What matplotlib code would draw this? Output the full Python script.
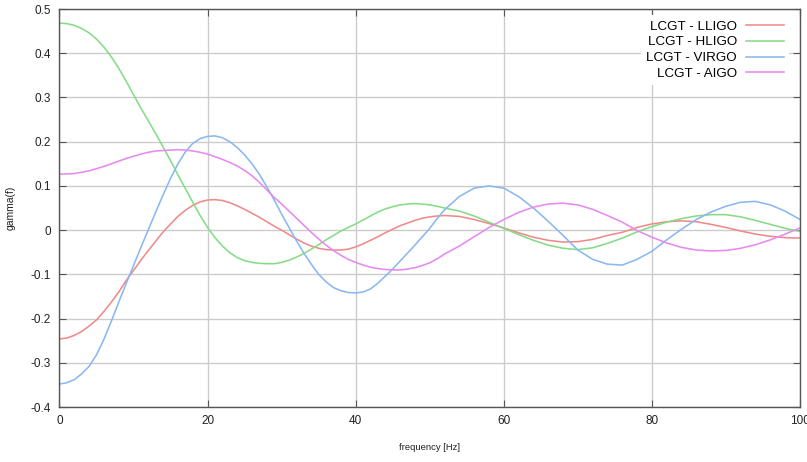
import matplotlib
matplotlib.use("Agg")
import matplotlib.pyplot as plt

# values: every 1 Hz up to 52 Hz, then every 2 Hz
freq = list(range(0, 53)) + list(range(54, 101, 2))

lligo = [-0.246, -0.244, -0.238, -0.229, -0.217, -0.203, -0.184, -0.163, -0.140, -0.114,
         -0.091, -0.068, -0.046, -0.025, -0.004, 0.014, 0.031, 0.045, 0.056, 0.064,
         0.068, 0.069, 0.067, 0.062, 0.055, 0.047, 0.038, 0.029, 0.019, 0.009,
         0.000, -0.010, -0.020, -0.029, -0.036, -0.041, -0.044, -0.045, -0.045, -0.043,
         -0.038, -0.031, -0.023, -0.015, -0.006, 0.002, 0.010, 0.016, 0.022, 0.027,
         0.030, 0.032, 0.033,
         0.031, 0.024, 0.015, 0.005, -0.006, -0.016, -0.023, -0.027, -0.026, -0.021,
         -0.012, -0.005, 0.006, 0.014, 0.019, 0.021, 0.019, 0.013, 0.006, -0.002,
         -0.009, -0.014, -0.017, -0.018]

hligo = [0.468, 0.467, 0.463, 0.456, 0.446, 0.432, 0.414, 0.392, 0.366, 0.337,
         0.306, 0.276, 0.247, 0.218, 0.188, 0.157, 0.125, 0.094, 0.063, 0.033,
         0.006, -0.017, -0.036, -0.051, -0.062, -0.069, -0.073, -0.075, -0.076, -0.076,
         -0.073, -0.068, -0.061, -0.053, -0.043, -0.033, -0.022, -0.012, -0.002, 0.006,
         0.014, 0.023, 0.032, 0.041, 0.048, 0.053, 0.057, 0.059, 0.060, 0.059,
         0.057, 0.054, 0.050,
         0.043, 0.032, 0.018, 0.004, -0.010, -0.023, -0.034, -0.041, -0.044, -0.040,
         -0.030, -0.018, -0.004, 0.008, 0.018, 0.026, 0.032, 0.035, 0.035, 0.030,
         0.022, 0.013, 0.004, -0.003]

virgo = [-0.348, -0.345, -0.338, -0.325, -0.308, -0.282, -0.247, -0.206, -0.163, -0.121,
         -0.080, -0.039, 0.001, 0.041, 0.080, 0.117, 0.150, 0.177, 0.196, 0.207,
         0.212, 0.213, 0.209, 0.200, 0.187, 0.170, 0.150, 0.126, 0.098, 0.068,
         0.036, 0.006, -0.024, -0.052, -0.077, -0.100, -0.117, -0.130, -0.137, -0.141,
         -0.142, -0.140, -0.133, -0.120, -0.104, -0.088, -0.070, -0.052, -0.034, -0.015,
         0.004, 0.026, 0.046,
         0.076, 0.095, 0.100, 0.095, 0.076, 0.050, 0.020, -0.012, -0.045, -0.066,
         -0.077, -0.079, -0.066, -0.048, -0.022, 0.002, 0.024, 0.041, 0.054, 0.063,
         0.065, 0.057, 0.043, 0.024]

aigo = [0.127, 0.127, 0.128, 0.131, 0.134, 0.139, 0.144, 0.150, 0.156, 0.162,
        0.167, 0.172, 0.176, 0.179, 0.180, 0.181, 0.182, 0.181, 0.179, 0.176,
        0.172, 0.166, 0.160, 0.153, 0.145, 0.135, 0.123, 0.108, 0.091, 0.074,
        0.059, 0.043, 0.027, 0.011, -0.005, -0.020, -0.034, -0.046, -0.057, -0.066,
        -0.073, -0.079, -0.084, -0.087, -0.089, -0.090, -0.090, -0.088, -0.085, -0.080,
        -0.074, -0.065, -0.054,
        -0.036, -0.015, 0.006, 0.024, 0.040, 0.052, 0.059, 0.061, 0.057, 0.047,
        0.033, 0.018, -0.001, -0.016, -0.029, -0.039, -0.045, -0.047, -0.046, -0.041,
        -0.033, -0.022, -0.009, 0.005]

labels = ["LCGT - LLIGO", "LCGT - HLIGO", "LCGT - VIRGO", "LCGT - AIGO"]
colors = ["#f08a8a", "#86dc86", "#8ab8f0", "#e68af0"]

plt.rcParams["font.family"] = ["Liberation Sans", "DejaVu Sans"]

fig = plt.figure(figsize=(8.07, 4.62), dpi=100)
ax = fig.add_axes([0.0737, 0.119, 0.9176, 0.8615])

for ys, lab, col in zip([lligo, hligo, virgo, aigo], labels, colors):
    ax.plot(freq, ys, color=col, lw=1.15, label=lab)

ax.set_xlim(0, 100)
ax.set_ylim(-0.4, 0.5)
ax.set_xticks([0, 20, 40, 60, 80, 100])
ax.set_yticks([-0.4, -0.3, -0.2, -0.1, 0, 0.1, 0.2, 0.3, 0.4, 0.5])
ax.set_yticklabels(["-0.4", "-0.3", "-0.2", "-0.1", "0", "0.1", "0.2", "0.3", "0.4", "0.5"])
ax.grid(True, color="#cccccc", lw=1.0)
ax.set_axisbelow(True)
ax.tick_params(direction="in", length=5, width=0.8, color="#555555",
               top=True, right=True, labelsize=8.5, pad=6, labelcolor="#222222")
for sp in ax.spines.values():
    sp.set_color("#555555")
    sp.set_linewidth(1.0)

ax.set_xlabel("frequency [Hz]", fontsize=6.8, color="#222222", labelpad=11.5)
ax.set_ylabel("gamma(f)", fontsize=7.5, color="#222222", labelpad=11)

leg = ax.legend(loc="upper right", bbox_to_anchor=(0.985, 0.985), markerfirst=False,
                fontsize=9.6, frameon=True, fancybox=False, framealpha=1.0,
                edgecolor="none", facecolor="white", handlelength=2.8,
                labelspacing=0.26, borderaxespad=0.0, handletextpad=0.7,
                borderpad=0.4)

fig.savefig("out.png", dpi=100)
